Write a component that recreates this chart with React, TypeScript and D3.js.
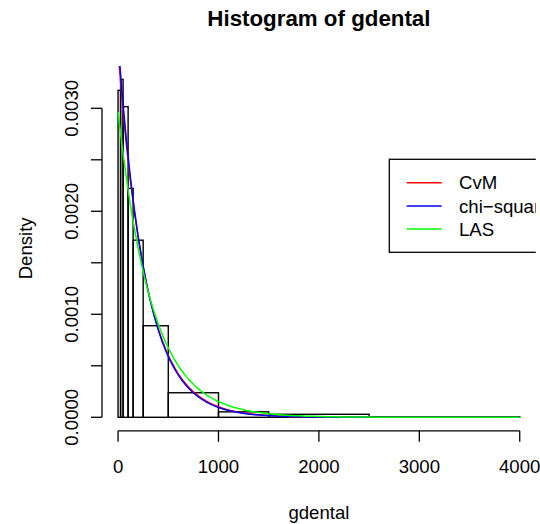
import React from "react";
import * as d3 from "d3";

// Grouped dental claims data (class boundaries and counts)
const breaks = [0, 25, 50, 100, 150, 250, 500, 1000, 1500, 2500, 4000];
const counts = [30, 31, 57, 42, 65, 84, 45, 10, 11, 3];

// Fitted exponential rates (minimum distance estimates)
const fitNames = ["CvM", "chi\u2212square", "LAS"];
const fitRates = [0.003551, 0.00364, 0.002966];
const fitColors = ["#FF0000", "#0000FF", "#00FF00"];

const xTicks = [0, 1000, 2000, 3000, 4000];
const yTicks = [0, 0.0005, 0.001, 0.0015, 0.002, 0.0025, 0.003];
const yTickLabels = ["0.0000", "", "0.0010", "", "0.0020", "", "0.0030"];

const W = 540;
const H = 524;
const PL = 102;
const PR = 535.8;
const PT = 65.9;
const PB = 430.8;
const FONT = "'Liberation Sans', Arial, Helvetica, sans-serif";
const FS = 18.6;

export default function App() {
  const total = d3.sum(counts);
  const bins = counts.map((c, i) => ({
    x0: breaks[i],
    x1: breaks[i + 1],
    density: c / (total * (breaks[i + 1] - breaks[i])),
  }));
  const xMin = breaks[0];
  const xMax = breaks[breaks.length - 1];
  const xr = xMax - xMin;
  const yMax = d3.max(bins, (b) => b.density) as number;

  const x = d3.scaleLinear().domain([xMin - 0.04 * xr, xMax + 0.04 * xr]).range([PL, PR]);
  const y = d3.scaleLinear().domain([-0.04 * yMax, 1.04 * yMax]).range([PB, PT]);

  const grid = d3.range(0, 101).map((i) => xMin + (xr * i) / 100);
  const line = d3
    .line<number[]>()
    .x((d) => x(d[0]))
    .y((d) => y(d[1]));

  const legendY0 = 182.7;
  const legendDY = 23.2;

  return (
    <svg width={W} height={H} style={{ display: "block", position: "absolute", left: 0, top: 0 }}>
      <rect x={0} y={0} width={W} height={H} fill="#fff" />
      <defs>
        <clipPath id="plotClip">
          <rect x={PL} y={PT} width={PR - PL} height={PB - PT} />
        </clipPath>
      </defs>
      <text x={(PL + PR) / 2} y={26} textAnchor="middle" fontFamily={FONT} fontWeight="bold" fontSize={FS * 1.2}>
        Histogram of gdental
      </text>
      {bins.map((b, i) => (
        <rect
          key={i}
          x={x(b.x0)}
          y={y(b.density)}
          width={x(b.x1) - x(b.x0)}
          height={y(0) - y(b.density)}
          fill="none"
          stroke="#000"
          strokeWidth={1.4}
        />
      ))}
      <g clipPath="url(#plotClip)">
        {fitRates.map((r, k) => (
          <path
            key={k}
            d={line(grid.map((v) => [v, r * Math.exp(-r * v)])) || ""}
            fill="none"
            stroke={fitColors[k]}
            strokeWidth={1.5}
          />
        ))}
      </g>
      {/* x axis */}
      <line x1={x(xTicks[0])} x2={x(xTicks[xTicks.length - 1])} y1={PB} y2={PB} stroke="#000" strokeWidth={1.3} />
      {xTicks.map((t) => (
        <g key={t}>
          <line x1={x(t)} x2={x(t)} y1={PB} y2={PB + 11} stroke="#000" strokeWidth={1.3} />
          <text x={x(t)} y={472.5} textAnchor="middle" fontFamily={FONT} fontSize={FS}>
            {t}
          </text>
        </g>
      ))}
      {/* y axis */}
      <line x1={PL} x2={PL} y1={y(yTicks[0])} y2={y(yTicks[yTicks.length - 1])} stroke="#000" strokeWidth={1.3} />
      {yTicks.map((t, i) => (
        <g key={t}>
          <line x1={PL - 11} x2={PL} y1={y(t)} y2={y(t)} stroke="#000" strokeWidth={1.3} />
          {yTickLabels[i] && (
            <text
              transform={`translate(78.3,${y(t)}) rotate(-90)`}
              textAnchor="middle"
              fontFamily={FONT}
              fontSize={FS}
            >
              {yTickLabels[i]}
            </text>
          )}
        </g>
      ))}
      <text x={(PL + PR) / 2} y={519} textAnchor="middle" fontFamily={FONT} fontSize={FS}>
        gdental
      </text>
      <text
        transform={`translate(31.7,${(PT + PB) / 2}) rotate(-90)`}
        textAnchor="middle"
        fontFamily={FONT}
        fontSize={FS}
      >
        Density
      </text>
      {/* legend, clipped to the plot region */}
      <g clipPath="url(#plotClip)">
        <rect x={389.3} y={159.3} width={180} height={93} fill="#fff" stroke="#000" strokeWidth={1.3} />
        {fitNames.map((n, k) => (
          <g key={n}>
            <line
              x1={406.7}
              x2={441.7}
              y1={legendY0 + k * legendDY}
              y2={legendY0 + k * legendDY}
              stroke={fitColors[k]}
              strokeWidth={1.5}
            />
            <text x={459} y={legendY0 + k * legendDY + 6.6} fontFamily={FONT} fontSize={FS}>
              {n}
            </text>
          </g>
        ))}
      </g>
    </svg>
  );
}
